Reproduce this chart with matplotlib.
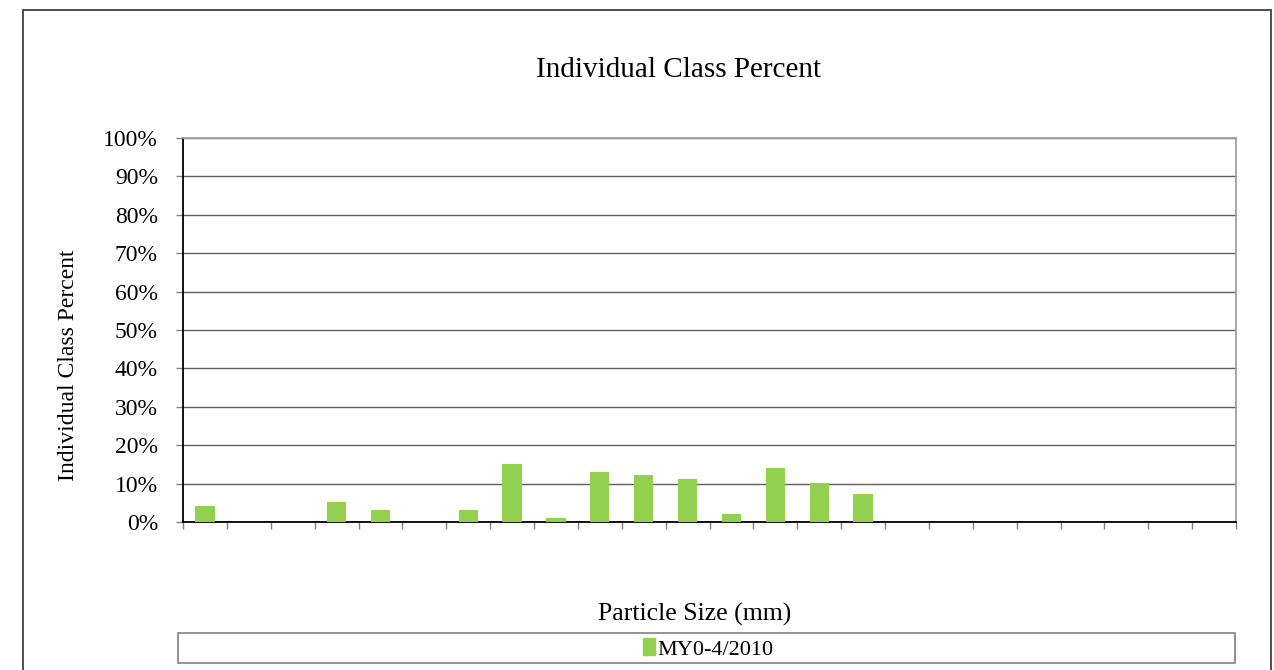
import numpy as np
import matplotlib.pyplot as plt
from matplotlib.patches import Rectangle

# Individual class percent per particle size class (24 classes, no labels shown)
n_classes = 24
class_idx = np.arange(n_classes)
class_percent = [4.2, 0, 0, 5.2, 3.1, 0, 3.1, 15.2, 1.1, 13.1, 12.2, 11.1,
                 2.2, 14.1, 10.2, 7.2, 0, 0, 0, 0, 0, 0, 0, 0]
series_name = "MY0-4/2010"
y_ticks = np.arange(0, 101, 10)
y_tick_labels = [f"{v}%" for v in y_ticks]

plt.rcParams['font.family'] = ['Liberation Serif', 'DejaVu Serif']

W, H = 1274, 670
fig = plt.figure(figsize=(W / 100, H / 100), dpi=100)
ax = fig.add_axes([183 / W, 1 - 522 / H, (1236 - 183) / W, (522 - 138) / H])

bar_color = '#92D050'
ax.bar(class_idx, class_percent, width=0.44, color=bar_color, zorder=3)

ax.set_xlim(-0.5, n_classes - 0.5)
ax.set_ylim(0, 100)
ax.set_yticks(y_ticks)
ax.set_yticklabels(y_tick_labels, fontsize=17)
ax.set_xticks(np.arange(n_classes + 1) - 0.5)
ax.set_xticklabels([])
ax.tick_params(axis='y', direction='out', length=5, width=1, color='#808080', pad=13)
ax.tick_params(axis='x', direction='out', length=5, width=1, color='#808080')
ax.yaxis.grid(True, color='#606060', linewidth=1)
ax.set_axisbelow(True)

for side in ['left', 'bottom']:
    ax.spines[side].set_color('black')
    ax.spines[side].set_linewidth(1.3)
for side in ['top', 'right']:
    ax.spines[side].set_color('#A0A0A0')
    ax.spines[side].set_linewidth(1.3)

# titles and axis labels
fig.text(678 / W, 1 - 70 / H, "Individual Class Percent", ha='center', va='center', fontsize=21)
fig.text(68 / W, 1 - 365 / H, "Individual Class Percent", ha='center', va='center',
         rotation=90, fontsize=17)
fig.text(695 / W, 1 - 614 / H, "Particle Size (mm)", ha='center', va='center', fontsize=18.5)

# outer chart border
fig.patches.append(Rectangle((23 / W, -0.02), (1271 - 23) / W, 1.02 - 10 / H,
                             transform=fig.transFigure, fill=False,
                             edgecolor='#404040', linewidth=1.3))

# legend box
fig.patches.append(Rectangle((178 / W, 1 - 663 / H), (1235 - 178) / W, 30 / H,
                             transform=fig.transFigure, fill=False,
                             edgecolor='#808080', linewidth=1.2))
handle = Rectangle((0, 0), 1, 1, color=bar_color)
fig.legend([handle], [series_name], loc='center', bbox_to_anchor=(708 / W, 1 - 649 / H),
           frameon=False, fontsize=16, handlelength=0.55, handleheight=0.8,
           handletextpad=0.1)

fig.savefig('out.png', dpi=100)
